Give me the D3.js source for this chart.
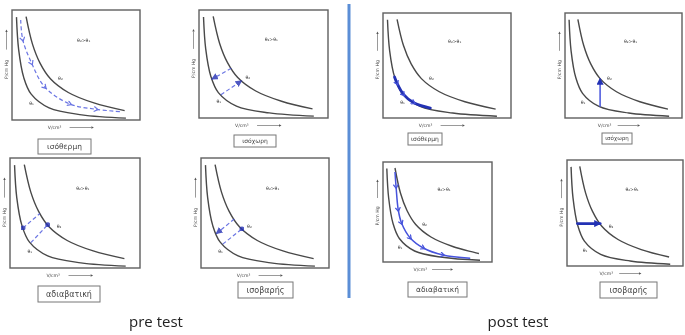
<!DOCTYPE html>
<html>
<head>
<meta charset="utf-8">
<script src="https://cdn.jsdelivr.net/npm/d3@7"></script>
<style>
  body { margin: 0; background: #fff; }
</style>
</head>
<body>
<div id="chart"></div>
<script>
// isotherms, both axes normalised to 0..10
const theta1V = [0.35, 0.52, 0.92, 1.5, 2.9, 5.45, 8.9];
const theta1P = [9.35, 6.4, 3.85, 2.35, 1.1, 0.47, 0.17];
const theta2V = [1.1, 1.6, 2.2, 3.0, 4.4, 6.4, 8.8];
const theta2P = [9.4, 6.9, 5.15, 3.75, 2.5, 1.55, 0.85];

const processNames = ["ισόθερμη", "ισόχωρη", "ισόθερμη", "ισόχωρη",
                      "αδιαβατική", "ισοβαρής", "αδιαβατική", "ισοβαρής"];
const groupTitles = ["pre test", "post test"];
const curveNames = ["θ₁", "θ₂", "θ₂>θ₁"];
const axisNames = ["V/cm³", "P/cm Hg"];

// the students' sketches (same normalised units)
const isoThermPreV = [0.68, 0.84, 1.54, 2.58, 4.53, 6.6, 8.57];
const isoThermPreP = [9.1, 7.3, 5.15, 2.97, 1.45, 0.97, 0.75];
const isoChorPreAV = [2.5, 1.0], isoChorPreAP = [4.6, 3.6];
const isoChorPreBV = [1.7, 3.3], isoChorPreBP = [2.15, 3.45];
const isoThermPostV = [0.9, 1.1, 1.6, 2.4, 3.7];
const isoThermPostP = [3.9, 3.3, 2.25, 1.45, 0.95];
const isoChorPostV = [3.0, 3.0], isoChorPostP = [1.08, 3.75];
const adiabPreAV = [1.0, 2.3], adiabPreAP = [3.64, 4.95];
const adiabPreBV = [1.6, 2.9], adiabPreBP = [2.3, 3.93];
const isoBarPreAV = [2.6, 1.2], isoBarPreAP = [4.45, 3.13];
const isoBarPreBV = [1.7, 3.2], isoBarPreBP = [2.17, 3.55];
const adiabPostV = [1.1, 1.2, 1.4, 1.7, 2.5, 3.7, 5.5, 8.0];
const adiabPostP = [9.0, 7.5, 5.2, 3.9, 2.4, 1.4, 0.7, 0.37];
const isoBarPostV = [0.9, 2.86], isoBarPostP = [4.0, 4.0];

const W = 685, H = 335;
const blue = "#4653dc", darkBlue = "#2430b4";

// layout: plot frame [x0,y0,x1,y1], name box [x0,y0,x1,y1], sketches
const panels = [
  { box: [12, 10, 140, 120], tag: [38, 139, 91, 154],
    sketch: [{ v: isoThermPreV, p: isoThermPreP, kind: "dash", mid: "chev" }] },
  { box: [199, 10, 328, 118], tag: [234, 135, 276, 147],
    sketch: [{ v: isoChorPreAV, p: isoChorPreAP, kind: "dash", end: "tri" },
             { v: isoChorPreBV, p: isoChorPreBP, kind: "dash", end: "tri" }] },
  { box: [383, 13, 511, 118], tag: [408, 133, 442, 145],
    sketch: [{ v: isoThermPostV, p: isoThermPostP, kind: "thick", mid: "chev" }] },
  { box: [565, 13, 682, 118], tag: [602, 133, 632, 144],
    sketch: [{ v: isoChorPostV, p: isoChorPostP, kind: "solid", end: "tri" }] },
  { box: [10, 158, 140, 268], tag: [38, 286, 100, 302],
    sketch: [{ v: adiabPreAV, p: adiabPreAP, kind: "dash", start: "dot" },
             { v: adiabPreBV, p: adiabPreBP, kind: "dash", end: "dot" }] },
  { box: [201, 158, 329, 268], tag: [238, 282, 293, 298],
    sketch: [{ v: isoBarPreAV, p: isoBarPreAP, kind: "dash", end: "tri" },
             { v: isoBarPreBV, p: isoBarPreBP, kind: "dash", end: "dot" }] },
  { box: [383, 162, 492, 262], tag: [408, 282, 467, 297],
    sketch: [{ v: adiabPostV, p: adiabPostP, kind: "solid", mid: "chev" }] },
  { box: [567, 160, 683, 266], tag: [600, 282, 657, 298],
    sketch: [{ v: isoBarPostV, p: isoBarPostP, kind: "thick", end: "tri" }] }
];

var svg = d3.select("#chart").append("svg")
    .attr("width", W).attr("height", H)
    .style("font-family", "'DejaVu Sans', sans-serif");

var defs = svg.append("defs");
defs.append("filter").attr("id", "soft")
    .append("feGaussianBlur").attr("stdDeviation", 0.4);
defs.append("marker").attr("id", "chev")
    .attr("viewBox", "0 0 6 6").attr("refX", 3).attr("refY", 3)
    .attr("markerWidth", 6).attr("markerHeight", 6)
    .attr("markerUnits", "userSpaceOnUse").attr("orient", "auto")
    .append("path").attr("d", "M0.5,0.5 L4.5,3 L0.5,5.5")
    .attr("fill", "none").attr("stroke", blue).attr("stroke-width", 1.2);
defs.append("marker").attr("id", "tri")
    .attr("viewBox", "0 0 7 7").attr("refX", 6).attr("refY", 3.5)
    .attr("markerWidth", 7).attr("markerHeight", 7)
    .attr("markerUnits", "userSpaceOnUse").attr("orient", "auto")
    .append("path").attr("d", "M0,0 L7,3.5 L0,7 Z").attr("fill", darkBlue);
defs.append("marker").attr("id", "dot")
    .attr("viewBox", "0 0 6 6").attr("refX", 3).attr("refY", 3)
    .attr("markerWidth", 5).attr("markerHeight", 5)
    .attr("markerUnits", "userSpaceOnUse")
    .append("circle").attr("cx", 3).attr("cy", 3).attr("r", 3).attr("fill", darkBlue);

function drawPanel(pn, idx) {
    const [x0, y0, x1, y1] = pn.box;
    const w = x1 - x0, h = y1 - y0;
    var x = d3.scaleLinear().domain([0, 10]).range([x0, x1]);
    var y = d3.scaleLinear().domain([0, 10]).range([y1, y0]);
    var g = svg.append("g").attr("filter", "url(#soft)");

    g.append("rect")
        .attr("x", x0).attr("y", y0).attr("width", w).attr("height", h)
        .attr("fill", "#fff").attr("stroke", "#5f5f5f").attr("stroke-width", 1.4);

    const line = (vs, ps) => d3.line()
        .x((d) => x(vs[d])).y((d) => y(ps[d]))
        .curve(d3.curveCatmullRom.alpha(0.5))(d3.range(vs.length));

    [[theta1V, theta1P], [theta2V, theta2P]].forEach(([vs, ps]) => {
        g.append("path").attr("d", line(vs, ps))
            .attr("fill", "none").attr("stroke", "#484848").attr("stroke-width", 1.4);
    });

    // small labels inside the frame
    const fs = 4.6;
    g.append("text").attr("x", x(5.6)).attr("y", y(7.1))
        .attr("text-anchor", "middle").attr("font-size", fs).attr("fill", "#333")
        .text(curveNames[2]);
    g.append("text").attr("x", x(3.6)).attr("y", y(3.6))
        .attr("font-size", fs).attr("fill", "#333").text(curveNames[1]);
    g.append("text").attr("x", x(1.35)).attr("y", y(1.35))
        .attr("font-size", fs).attr("fill", "#333").text(curveNames[0]);

    // axis names with arrows
    g.append("text").attr("x", x0 + 0.28 * w).attr("y", y1 + 9)
        .attr("font-size", fs).attr("fill", "#444").text(axisNames[0]);
    g.append("line")
        .attr("x1", x0 + 0.45 * w).attr("x2", x0 + 0.62 * w)
        .attr("y1", y1 + 7.5).attr("y2", y1 + 7.5)
        .attr("stroke", "#555").attr("stroke-width", 0.6);
    g.append("path")
        .attr("d", `M${x0 + 0.62 * w},${y1 + 6.3} l2.5,1.2 l-2.5,1.2 Z`).attr("fill", "#555");
    g.append("text")
        .attr("transform", `translate(${x0 - 4},${y0 + 0.54 * h}) rotate(-90)`)
        .attr("text-anchor", "middle").attr("font-size", fs).attr("fill", "#444")
        .text(axisNames[1]);
    g.append("line")
        .attr("x1", x0 - 5.5).attr("x2", x0 - 5.5)
        .attr("y1", y0 + 0.36 * h).attr("y2", y0 + 0.2 * h)
        .attr("stroke", "#555").attr("stroke-width", 0.6);
    g.append("path")
        .attr("d", `M${x0 - 6.7},${y0 + 0.2 * h} l1.2,-2.5 l1.2,2.5 Z`).attr("fill", "#555");

    // what the student drew
    pn.sketch.forEach((s) => {
        var p = g.append("path").attr("d", line(s.v, s.p)).attr("fill", "none");
        if (s.kind === "dash") {
            p.attr("stroke", blue).attr("stroke-width", 1.2).attr("stroke-dasharray", "4,2.5")
             .attr("opacity", 0.8);
        } else if (s.kind === "thick") {
            p.attr("stroke", darkBlue).attr("stroke-width", 2.8).attr("stroke-linecap", "round");
        } else {
            p.attr("stroke", blue).attr("stroke-width", 1.5);
        }
        if (s.mid) p.attr("marker-mid", `url(#${s.mid})`);
        if (s.end) p.attr("marker-end", `url(#${s.end})`);
        if (s.start) p.attr("marker-start", `url(#${s.start})`);
    });

    // process name box
    const [tx0, ty0, tx1, ty1] = pn.tag;
    g.append("rect")
        .attr("x", tx0).attr("y", ty0).attr("width", tx1 - tx0).attr("height", ty1 - ty0)
        .attr("fill", "#fff").attr("stroke", "#777").attr("stroke-width", 1);
    g.append("text")
        .attr("x", (tx0 + tx1) / 2).attr("y", (ty0 + ty1) / 2)
        .attr("dy", "0.35em").attr("text-anchor", "middle")
        .attr("font-size", (ty1 - ty0) * 0.5).attr("fill", "#444")
        .text(processNames[idx]);
}

panels.forEach(drawPanel);

// divider between pre and post test
svg.append("line")
    .attr("x1", 349).attr("x2", 349).attr("y1", 4).attr("y2", 298)
    .attr("stroke", "#5b8ed6").attr("stroke-width", 3);

svg.selectAll(".grp")
    .data(groupTitles)
    .enter().append("text")
    .attr("class", "grp")
    .attr("x", (d, i) => [156, 518][i])
    .attr("y", 327)
    .attr("text-anchor", "middle")
    .attr("font-family", "'Open Sans', sans-serif")
    .attr("font-size", 15)
    .attr("fill", "#222")
    .text((d) => d);
</script>
</body>
</html>
